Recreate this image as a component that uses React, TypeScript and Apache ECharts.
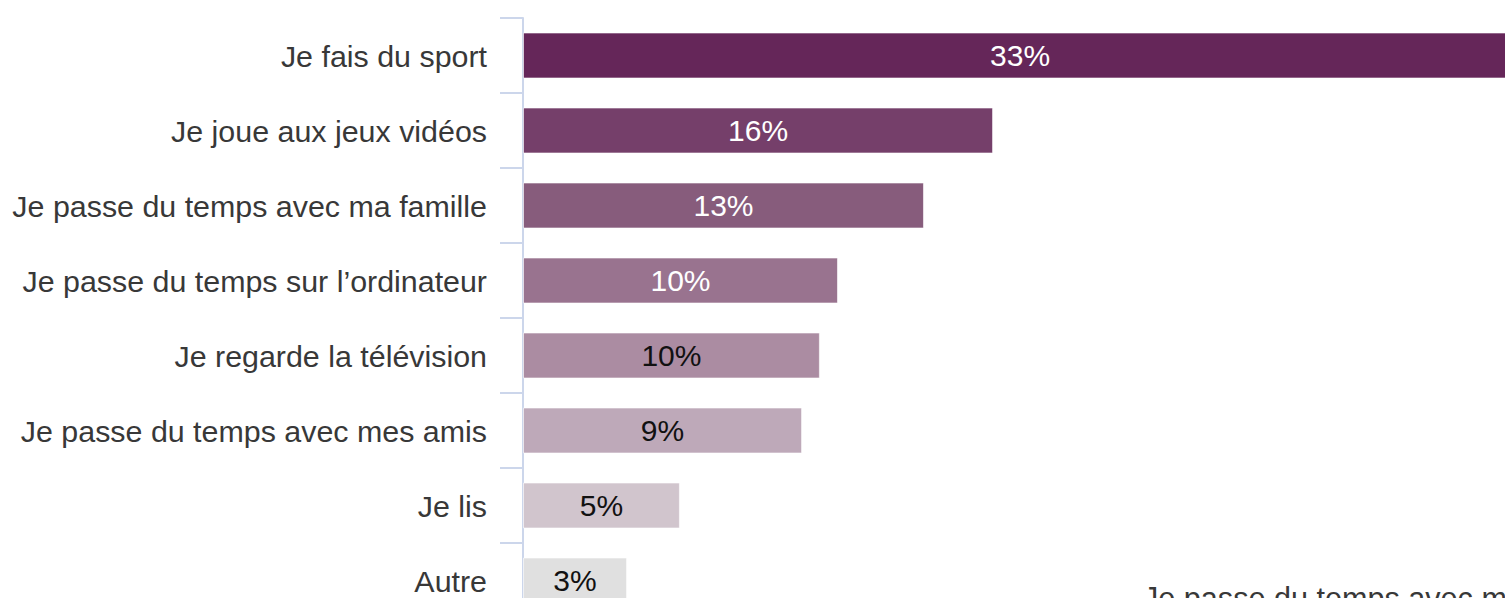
import React, { useEffect, useRef } from "react";
import * as echarts from "echarts";

const categories = [
  "Je fais du sport",
  "Je joue aux jeux vidéos",
  "Je passe du temps avec ma famille",
  "Je passe du temps sur l’ordinateur",
  "Je regarde la télévision",
  "Je passe du temps avec mes amis",
  "Je lis",
  "Autre",
];
const values = [32.95, 15.58, 13.29, 10.44, 9.84, 9.25, 5.2, 3.45];
const barColors = [
  "#652659",
  "#753f6a",
  "#875c7c",
  "#99738f",
  "#ab8ca2",
  "#bea9b9",
  "#d1c5cd",
  "#e0e0e0",
];
const labelColors = ["#ffffff", "#ffffff", "#ffffff", "#ffffff", "#111111", "#111111", "#111111", "#111111"];
const cutLabel = "Je passe du temps avec mes amis";

export default function App() {
  const ref = useRef<HTMLDivElement>(null);
  useEffect(() => {
    if (!ref.current) return;
    const chart = echarts.init(ref.current, undefined, { renderer: "svg" });
    const font = "'Liberation Sans', Arial, Helvetica, sans-serif";
    chart.setOption({
      animation: false,
      backgroundColor: "#ffffff",
      grid: { left: 523, top: 18, width: 1056, height: 600, containLabel: false },
      xAxis: {
        type: "value",
        min: 0,
        max: 35,
        show: false,
        splitLine: { show: false },
      },
      yAxis: {
        type: "category",
        data: categories,
        inverse: true,
        axisLine: { show: true, lineStyle: { color: "#ccd6eb", width: 2 } },
        axisTick: { show: true, length: 23, lineStyle: { color: "#ccd6eb", width: 2 } },
        axisLabel: { margin: 36, fontSize: 30.4, color: "#383838", fontFamily: font },
      },
      series: [
        {
          type: "bar",
          barWidth: 46,
          data: values.map((v, i) => ({
            value: v,
            itemStyle: { color: barColors[i] },
            label: { color: labelColors[i] },
          })),
          itemStyle: { borderColor: "rgba(255,255,255,0.6)", borderWidth: 1 },
          label: {
            show: true,
            position: "inside",
            fontSize: 30,
            fontFamily: font,
            formatter: (p: any) => Math.round(p.value) + "%",
          },
        },
      ],
      graphic: [
        {
          type: "text",
          x: 1143,
          y: 582,
          style: {
            text: cutLabel,
            fontSize: 30.6,
            fontFamily: font,
            fill: "#383838",
            textVerticalAlign: "top",
          },
        },
      ],
    });
    return () => chart.dispose();
  }, []);
  return (
    <div style={{ position: "fixed", left: 0, top: 0, width: 1505, height: 598, overflow: "hidden", background: "#fff" }}>
      <div ref={ref} style={{ width: 1620, height: 660 }} />
    </div>
  );
}
